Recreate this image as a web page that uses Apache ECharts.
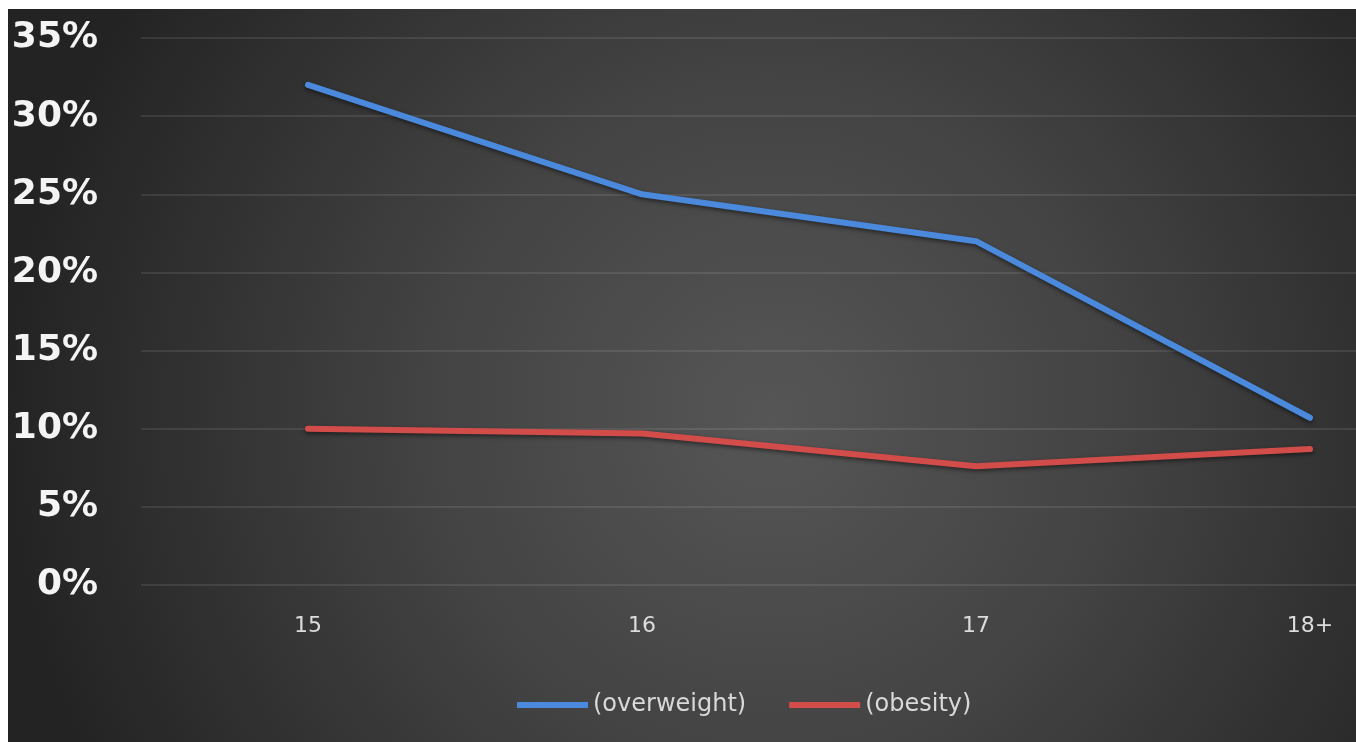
<!DOCTYPE html>
<html>
<head>
<meta charset="utf-8">
<script src="https://cdn.jsdelivr.net/npm/echarts@6/dist/echarts.min.js"></script>
<style>
  html, body { margin: 0; padding: 0; background: #ffffff; overflow: hidden; width: 1356px; height: 742px; }
  #chart { position: absolute; left: 8px; top: 9px; width: 1469px; height: 733px; }
</style>
</head>
<body>
<div id="chart"></div>
<script>
// Age groups on the x axis
const ageGroups = ['15', '16', '17', '18+'];
// Share of each age group, in percent
const overweight = [32, 25, 22, 10.7];
const obesity = [10, 9.7, 7.6, 8.7];
// Y axis range and step, in percent
const yMin = 0, yMax = 35, yStep = 5;

const chart = echarts.init(document.getElementById('chart'));

chart.setOption({
  backgroundColor: {
    type: 'radial', x: 0.52, y: 0.56, r: 1.05,
    colorStops: [
      { offset: 0, color: '#565656' },
      { offset: 0.45, color: '#434343' },
      { offset: 1, color: '#232323' }
    ]
  },
  animation: false,
  grid: { left: 133, top: 29, right: 0, height: 547 },
  legend: {
    left: 504, top: 679,
    icon: 'rect', itemWidth: 71, itemHeight: 6, itemGap: 43,
    textStyle: { color: '#d9d9d9', fontFamily: 'DejaVu Sans', fontSize: 24 },
    data: ['(overweight)', '(obesity)']
  },
  xAxis: {
    type: 'category',
    data: ageGroups,
    boundaryGap: true,
    axisLine: { show: false },
    axisTick: { show: false },
    splitLine: { show: false },
    axisLabel: { color: '#dcdcdc', fontFamily: 'DejaVu Sans', fontSize: 22, margin: 30 }
  },
  yAxis: {
    type: 'value',
    min: yMin, max: yMax, interval: yStep,
    axisLine: { show: false },
    axisTick: { show: false },
    splitLine: { lineStyle: { color: 'rgba(255,255,255,0.09)', width: 2 } },
    axisLabel: {
      formatter: '{value}%',
      color: '#f4f4f4', fontFamily: 'DejaVu Sans', fontWeight: 'bold', fontSize: 36, margin: 43
    }
  },
  series: [
    {
      name: '(overweight)', type: 'line', data: overweight,
      symbol: 'none', color: '#4a89dc',
      lineStyle: {
        width: 6, color: '#4a89dc', cap: 'round', join: 'round',
        shadowColor: 'rgba(0,0,0,0.5)', shadowBlur: 4, shadowOffsetY: 2
      }
    },
    {
      name: '(obesity)', type: 'line', data: obesity,
      symbol: 'none', color: '#d24c4a',
      lineStyle: {
        width: 6, color: '#d24c4a', cap: 'round', join: 'round',
        shadowColor: 'rgba(0,0,0,0.5)', shadowBlur: 4, shadowOffsetY: 2
      }
    }
  ]
});
</script>
</body>
</html>
